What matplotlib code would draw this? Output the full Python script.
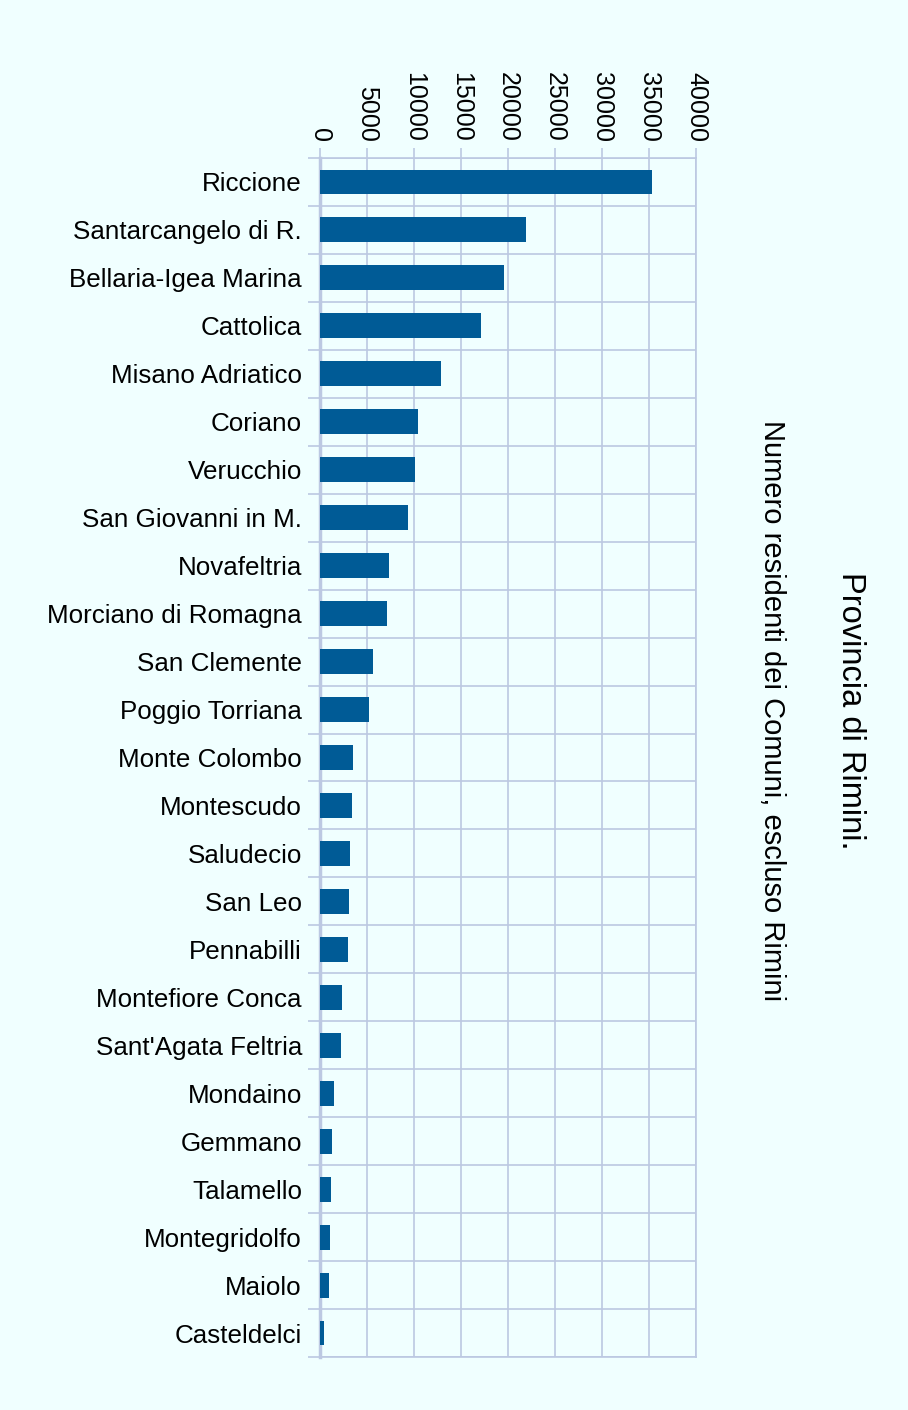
"""Horizontal bar chart: residents of the municipalities in the Province of Rimini."""
import numpy as np
import matplotlib
matplotlib.use("Agg")
import matplotlib.pyplot as plt

plt.rcParams['font.family'] = ['Liberation Sans', 'DejaVu Sans']

comuni = [
    "Riccione", "Santarcangelo di R.", "Bellaria-Igea Marina", "Cattolica",
    "Misano Adriatico", "Coriano", "Verucchio", "San Giovanni in M.",
    "Novafeltria", "Morciano di Romagna", "San Clemente", "Poggio Torriana",
    "Monte Colombo", "Montescudo", "Saludecio", "San Leo", "Pennabilli",
    "Montefiore Conca", "Sant'Agata Feltria", "Mondaino", "Gemmano",
    "Talamello", "Montegridolfo", "Maiolo", "Casteldelci",
]
residenti = [
    35300, 21900, 19550, 17100, 12850, 10400, 10100, 9350, 7330, 7100,
    5650, 5200, 3500, 3400, 3200, 3100, 3000, 2350, 2250, 1500, 1250,
    1170, 1060, 960, 450,
]
x_ticks = [0, 5000, 10000, 15000, 20000, 25000, 30000, 35000, 40000]

BG = "#F0FFFF"
BAR = "#005B96"
GRID = "#BCC8E2"

fig = plt.figure(figsize=(9.08, 14.10), dpi=100, facecolor=BG)
ax = fig.add_axes([320 / 908, 1 - 1357 / 1410, 376 / 908, 1199 / 1410])
ax.set_facecolor(BG)

n = len(comuni)
ypos = np.arange(n)
ax.barh(ypos, residenti, height=0.52, color=BAR, zorder=3)

ax.set_xlim(0, 40000)
ax.set_ylim(n - 0.5, -0.5)

# x axis on top, labels reading downwards
ax.xaxis.tick_top()
ax.set_xticks(x_ticks)
ax.set_xticklabels([str(v) for v in x_ticks], rotation=-90, fontsize=18)
ax.tick_params(axis='x', which='major', length=7.5, width=1.2, color=GRID, pad=4)

# category names at bar centres, grid lines at category boundaries
ax.set_yticks(ypos)
ax.set_yticklabels(comuni, fontsize=18.7)
ax.tick_params(axis='y', which='major', length=0, pad=13)
ax.set_yticks(np.arange(n + 1) - 0.5, minor=True)
ax.tick_params(axis='y', which='minor', length=9, width=1.2, color=GRID)

ax.grid(True, axis='x', which='major', color=GRID, linewidth=1.2, zorder=0)
ax.grid(True, axis='y', which='minor', color=GRID, linewidth=1.2, zorder=0)

for side, sp in ax.spines.items():
    sp.set_color(GRID)
    sp.set_linewidth(1.2)
ax.spines['left'].set_linewidth(2.5)

fig.text(850 / 908, 1 - 711 / 1410, "Provincia di Rimini.", rotation=-90,
         fontsize=23.5, ha='center', va='center')
fig.text(772 / 908, 1 - 711 / 1410, "Numero residenti dei Comuni, escluso Rimini",
         rotation=-90, fontsize=21, ha='center', va='center')

fig.savefig("out.png", dpi=100, facecolor=BG)
